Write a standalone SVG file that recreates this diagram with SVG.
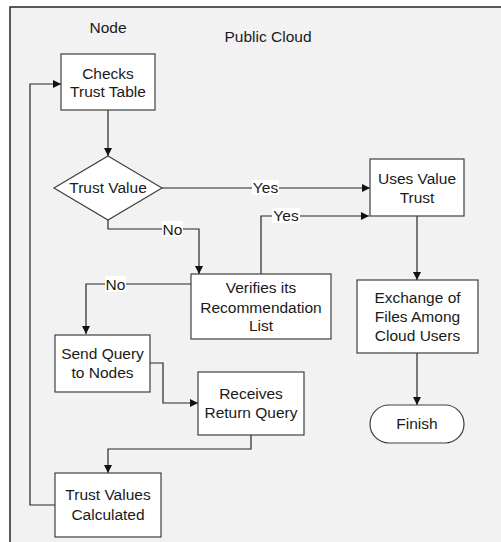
<svg xmlns="http://www.w3.org/2000/svg" width="501" height="542" viewBox="0 0 501 542">
<style>
.box{fill:#fff;stroke:#404040;stroke-width:1.2}
.ln{fill:none;stroke:#262626;stroke-width:1.2}
text{font-family:"Liberation Sans",Arial,sans-serif;font-size:15.5px;fill:#1a1a1a;text-anchor:middle}
.lbl{fill:#fff;stroke:none}
</style>
<defs>
<marker id="ah" viewBox="0 0 10 10" refX="10" refY="5" markerWidth="8" markerHeight="8" markerUnits="userSpaceOnUse" orient="auto">
<path d="M0,0 L10,5 L0,10 z" fill="#111"/>
</marker>
</defs>
<rect x="0" y="0" width="501" height="542" fill="#fff"/>
<rect x="10" y="7" width="500" height="545" fill="#f2f2f2" stroke="#262626" stroke-width="1.5"/>
<g id="title-node"><text x="108" y="33">Node</text></g>
<g id="title-cloud"><text x="268" y="42">Public Cloud</text></g>
<g id="connectors">
<path class="ln" d="M108,110 V156" marker-end="url(#ah)"/>
<path class="ln" d="M162,188 H370" marker-end="url(#ah)"/>
<path class="ln" d="M108,220 V229 H199 V274" marker-end="url(#ah)"/>
<path class="ln" d="M261,274 V216 H369" marker-end="url(#ah)"/>
<path class="ln" d="M191,284 H86 V334" marker-end="url(#ah)"/>
<path class="ln" d="M150,363 H163 V403 H198" marker-end="url(#ah)"/>
<path class="ln" d="M251,435 V449 H108 V473" marker-end="url(#ah)"/>
<path class="ln" d="M55,505 H30 V84 H61" marker-end="url(#ah)"/>
<path class="ln" d="M417,216 V280" marker-end="url(#ah)"/>
<path class="ln" d="M417,353 V405" marker-end="url(#ah)"/>
<rect class="lbl" x="252" y="180" width="27" height="15"/>
<text x="265.5" y="193">Yes</text>
<rect class="lbl" x="272" y="208" width="28" height="15"/>
<text x="286" y="221">Yes</text>
<rect class="lbl" x="162" y="221" width="21" height="16"/>
<text x="172.5" y="235">No</text>
<rect class="lbl" x="105" y="276" width="21" height="16"/>
<text x="115.5" y="290">No</text>
</g>
<g id="checks"><rect class="box" x="61" y="54" width="94" height="56"/><text x="108" y="79">Checks</text><text x="108" y="97">Trust Table</text></g>
<g id="trust-value"><path class="box" d="M108,156 L162,188 L108,220 L54,188 Z"/><text x="108" y="193">Trust Value</text></g>
<g id="uses-value"><rect class="box" x="370" y="159" width="94" height="57"/><text x="417" y="184">Uses Value</text><text x="417" y="203">Trust</text></g>
<g id="verifies"><rect class="box" x="191" y="274" width="140" height="65"/><text x="261" y="293">Verifies its</text><text x="261" y="313">Recommendation</text><text x="261" y="331">List</text></g>
<g id="exchange"><rect class="box" x="357" y="280" width="121" height="73"/><text x="417.5" y="303">Exchange of</text><text x="417.5" y="322">Files Among</text><text x="417.5" y="341">Cloud Users</text></g>
<g id="send-query"><rect class="box" x="55" y="335" width="95" height="57"/><text x="102.5" y="359">Send Query</text><text x="102.5" y="378">to Nodes</text></g>
<g id="receives"><rect class="box" x="198" y="372" width="106" height="63"/><text x="251" y="399">Receives</text><text x="251" y="418">Return Query</text></g>
<g id="trust-values-calc"><rect class="box" x="55" y="473" width="106" height="64"/><text x="108" y="500">Trust Values</text><text x="108" y="520">Calculated</text></g>
<g id="finish"><rect class="box" x="370" y="405" width="94" height="38" rx="19" ry="19"/><text x="417" y="429">Finish</text></g>
</svg>
